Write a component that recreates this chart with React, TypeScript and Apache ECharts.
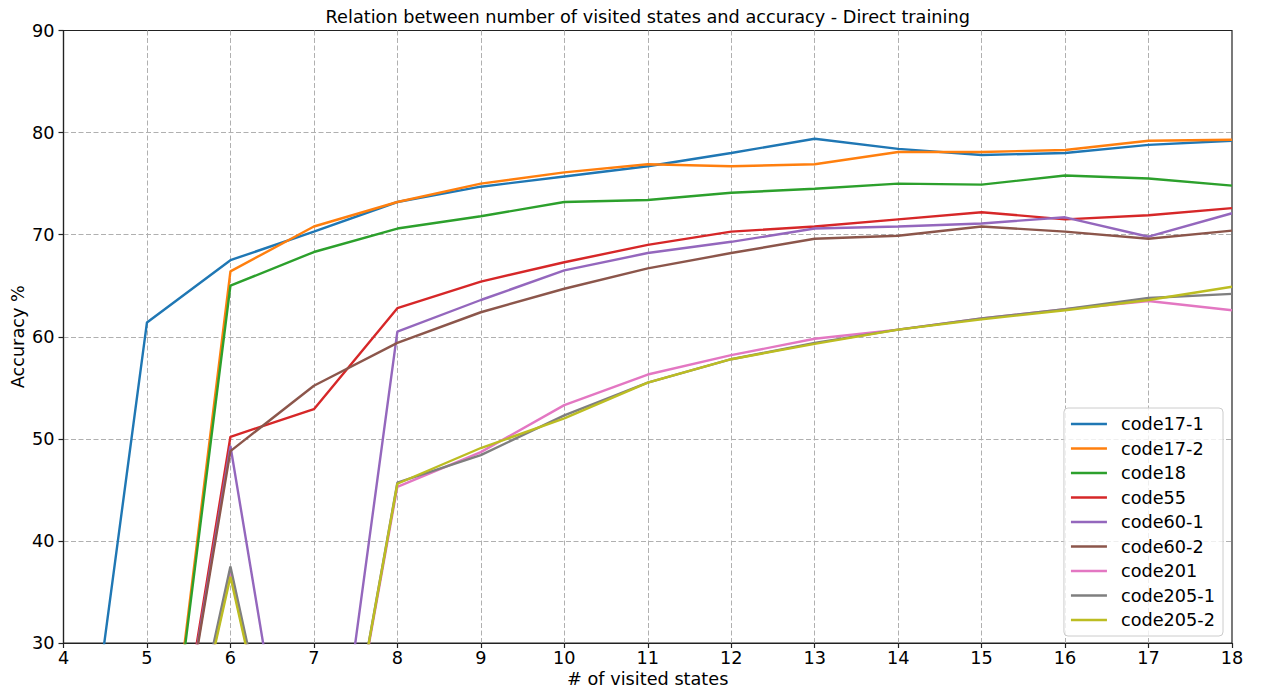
import React, { useEffect, useRef } from "react";
import * as echarts from "echarts";

const xValues = [4, 5, 6, 7, 8, 9, 10, 11, 12, 13, 14, 15, 16, 17, 18];
const seriesNames = ["code17-1", "code17-2", "code18", "code55", "code60-1", "code60-2", "code201", "code205-1", "code205-2"];
const code17_1 = [0, 61.4, 67.5, 70.3, 73.2, 74.7, 75.7, 76.7, 78.0, 79.4, 78.4, 77.8, 78.0, 78.8, 79.2];
const code17_2 = [0, 0, 66.4, 70.8, 73.2, 75.0, 76.1, 76.9, 76.7, 76.9, 78.1, 78.1, 78.3, 79.2, 79.3];
const code18 = [0, 0, 65.0, 68.3, 70.6, 71.8, 73.2, 73.4, 74.1, 74.5, 75.0, 74.9, 75.8, 75.5, 74.8];
const code55 = [0, 0, 50.2, 52.9, 62.8, 65.4, 67.3, 69.0, 70.3, 70.8, 71.5, 72.2, 71.5, 71.9, 72.6];
const code60_1 = [0, 0, 49.3, 0, 60.5, 63.6, 66.5, 68.2, 69.3, 70.6, 70.8, 71.1, 71.7, 69.8, 72.1];
const code60_2 = [0, 0, 48.8, 55.2, 59.4, 62.4, 64.7, 66.7, 68.2, 69.6, 69.9, 70.8, 70.3, 69.6, 70.4];
const code201 = [0, 0, 36.8, 0, 45.3, 48.7, 53.3, 56.3, 58.2, 59.8, 60.7, 61.8, 62.7, 63.5, 62.6];
const code205_1 = [0, 0, 37.5, 0, 45.7, 48.4, 52.3, 55.5, 57.8, 59.4, 60.7, 61.8, 62.7, 63.8, 64.2];
const code205_2 = [0, 0, 36.5, 0, 45.6, 49.1, 52.0, 55.5, 57.8, 59.3, 60.7, 61.7, 62.6, 63.6, 64.9];
const allValues = [code17_1, code17_2, code18, code55, code60_1, code60_2, code201, code205_1, code205_2];
const colors = ["#1f77b4", "#ff7f0e", "#2ca02c", "#d62728", "#9467bd", "#8c564b", "#e377c2", "#7f7f7f", "#bcbd22"];

const titleText = "Relation between number of visited states and accuracy - Direct training";
const xName = "# of visited states";
const yName = "Accuracy %";

const FONT = "'DejaVu Sans', sans-serif";
const FS = 17.7;

export default function App() {
  const ref = useRef<HTMLDivElement>(null);
  useEffect(() => {
    if (!ref.current) return;
    const chart = echarts.init(ref.current, undefined, { renderer: "svg" });
    const gridLeft = 63.5;
    const gridRight = 29;
    const plotCenter = gridLeft + (1261 - gridLeft - gridRight) / 2;
    chart.setOption({
      animation: false,
      color: colors,
      textStyle: { fontFamily: FONT },
      grid: {
        left: gridLeft,
        right: gridRight,
        top: 30.5,
        bottom: 47,
        containLabel: false,
        outerBoundsMode: "none",
        show: true,
        borderColor: "#222",
        borderWidth: 1.2,
        backgroundColor: "transparent",
      },
      graphic: [
        {
          type: "text",
          x: plotCenter,
          y: 17,
          style: {
            text: titleText,
            fontFamily: FONT,
            fontSize: FS,
            fill: "#000",
            textAlign: "center",
            textVerticalAlign: "middle",
          },
        },
      ],
      legend: {
        orient: "vertical",
        right: 38,
        bottom: 54,
        data: seriesNames,
        icon: "rect",
        itemWidth: 36,
        itemHeight: 2.6,
        itemGap: 6.5,
        padding: [7, 8, 7, 7],
        backgroundColor: "rgba(255,255,255,0.8)",
        borderColor: "#cccccc",
        borderWidth: 1,
        borderRadius: 4,
        textStyle: { fontFamily: FONT, fontSize: FS, color: "#000", padding: [0, 0, 0, 9] },
      },
      xAxis: {
        type: "value",
        min: 4,
        max: 18,
        interval: 1,
        name: xName,
        nameLocation: "middle",
        nameGap: 27,
        nameMoveOverlap: false,
        nameTextStyle: { fontFamily: FONT, fontSize: FS, color: "#000" },
        axisLine: { show: true, lineStyle: { color: "#222", width: 1.2 } },
        axisTick: { show: true, length: 5, lineStyle: { color: "#222", width: 1.2 } },
        axisLabel: { fontFamily: FONT, fontSize: FS, color: "#000", margin: 6 },
        splitLine: {
          show: true,
          showMinLine: false,
          showMaxLine: false,
          lineStyle: { color: "#b0b0b0", width: 1, type: [5, 2.5] },
        },
      },
      yAxis: {
        type: "value",
        min: 30,
        max: 90,
        interval: 10,
        name: yName,
        nameLocation: "middle",
        nameRotate: 90,
        nameGap: 37,
        nameMoveOverlap: false,
        nameTextStyle: { fontFamily: FONT, fontSize: FS, color: "#000" },
        axisLine: { show: true, lineStyle: { color: "#222", width: 1.2 } },
        axisTick: { show: true, length: 5, lineStyle: { color: "#222", width: 1.2 } },
        axisLabel: { fontFamily: FONT, fontSize: FS, color: "#000", margin: 9 },
        splitLine: {
          show: true,
          showMinLine: false,
          showMaxLine: false,
          lineStyle: { color: "#b0b0b0", width: 1, type: [5, 2.5] },
        },
      },
      series: seriesNames.map((name, i) => ({
        name,
        type: "line",
        data: xValues.map((x, j) => [x, allValues[i][j]]),
        symbol: "none",
        clip: true,
        lineStyle: { width: 2.4, color: colors[i] },
        itemStyle: { color: colors[i] },
      })),
    });
    return () => chart.dispose();
  }, []);
  return (
    <div
      ref={ref}
      style={{ position: "fixed", left: 0, top: 0, width: 1261, height: 690, background: "#fff" }}
    />
  );
}
